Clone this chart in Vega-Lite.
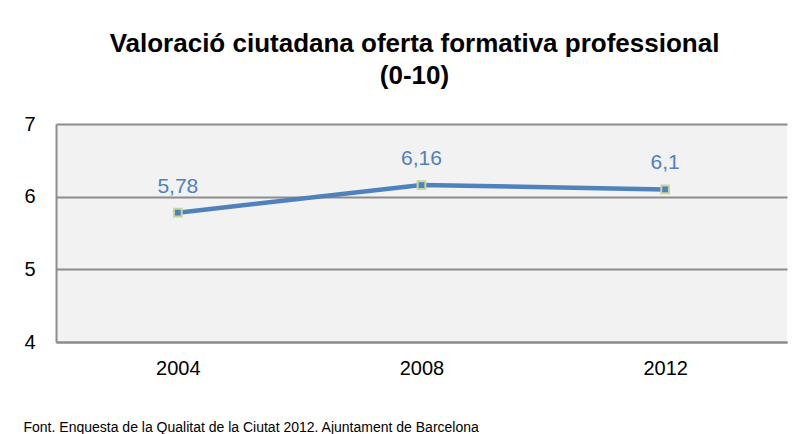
{
  "$schema": "https://vega.github.io/schema/vega-lite/v6.json",
  "width": 731,
  "height": 218,
  "autosize": {"type": "none"},
  "padding": {"left": 56, "top": 124, "right": 22, "bottom": 92},
  "background": "white",
  "title": {
    "text": ["Valoració ciutadana oferta formativa professional", "(0-10)"],
    "font": "Liberation Sans",
    "fontSize": 26,
    "fontWeight": "bold",
    "color": "black",
    "anchor": "middle",
    "lineHeight": 32,
    "offset": 25,
    "dx": -7
  },
  "data": {
    "values": [
      {"year": "2004", "value": 5.78},
      {"year": "2008", "value": 6.16},
      {"year": "2012", "value": 6.1}
    ]
  },
  "encoding": {
    "x": {
      "field": "year",
      "type": "ordinal",
      "scale": {"type": "point", "padding": 0.5},
      "axis": {
        "title": "Font. Enquesta de la Qualitat de la Ciutat 2012. Ajuntament de Barcelona",
        "titleFont": "Liberation Sans",
        "titleFontSize": 14,
        "titleFontWeight": "normal",
        "titleColor": "black",
        "titleAnchor": "start",
        "titleAlign": "left",
        "titleBaseline": "alphabetic",
        "titleX": -33,
        "titleY": 89,
        "labelAngle": 0,
        "labelFont": "Liberation Sans",
        "labelFontSize": 20,
        "labelColor": "black",
        "labelPadding": 16,
        "ticks": false,
        "domainColor": "#8c8c8c",
        "domainWidth": 2,
        "grid": false
      }
    },
    "y": {
      "field": "value",
      "type": "quantitative",
      "scale": {"domain": [4, 7], "nice": false, "zero": false},
      "axis": {
        "title": null,
        "values": [4, 5, 6, 7],
        "format": "d",
        "labelFont": "Liberation Sans",
        "labelFontSize": 20,
        "labelColor": "black",
        "labelPadding": 21,
        "ticks": false,
        "domainColor": "#8c8c8c",
        "domainWidth": 2,
        "grid": true,
        "gridColor": "#8c8c8c",
        "gridWidth": 2,
        "gridOpacity": 1
      }
    }
  },
  "layer": [
    {
      "mark": {"type": "line", "color": "#4f81bd", "strokeWidth": 4.5}
    },
    {
      "mark": {"type": "point", "shape": "square", "filled": true, "fill": "#4f81bd", "stroke": "#c3d69b", "strokeWidth": 2, "size": 60, "opacity": 1}
    },
    {
      "mark": {"type": "text", "color": "#4f81bd", "font": "Liberation Sans", "fontSize": 21, "baseline": "alphabetic", "dy": -20},
      "encoding": {
        "text": {"field": "value", "type": "quantitative", "format": ".3~g"}
      }
    }
  ],
  "config": {
    "view": {"fill": "#f2f2f2", "stroke": null},
    "locale": {
      "number": {"decimal": ",", "thousands": ".", "grouping": [3], "currency": ["", " €"]}
    }
  }
}
